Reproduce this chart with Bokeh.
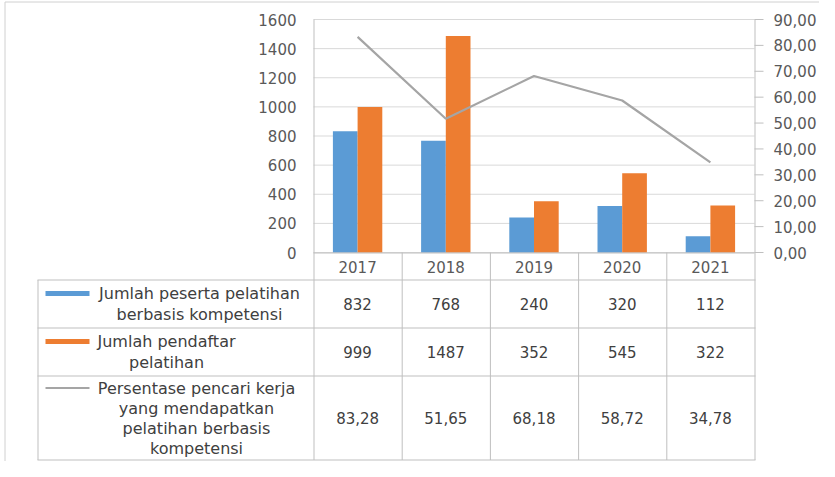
from bokeh.plotting import figure
from bokeh.models import ColumnDataSource, Range1d
from bokeh.core.properties import value
from bokeh.embed import file_html
from bokeh.resources import INLINE

# ---------------- data ----------------
years = ["2017", "2018", "2019", "2020", "2021"]
peserta = [832, 768, 240, 320, 112]
pendaftar = [999, 1487, 352, 545, 322]
persen = [83.28, 51.65, 68.18, 58.72, 34.78]
left_ticks = [0, 200, 400, 600, 800, 1000, 1200, 1400, 1600]
right_ticks = [0, 10, 20, 30, 40, 50, 60, 70, 80, 90]
series_names = [
    ["Jumlah peserta pelatihan", "berbasis kompetensi"],
    ["Jumlah pendaftar", "pelatihan"],
    ["Persentase pencari kerja", "yang mendapatkan", "pelatihan berbasis", "kompetensi"],
]

BLUE = "#5B9BD5"
ORANGE = "#ED7D31"
GRAY = "#A5A5A5"
TXT = "#595959"
TTXT = "#404040"
GRID = "#D9D9D9"
TLINE = "#BFBFBF"
BORDER = "#D0D0D0"
FONT = "DejaVu Sans"

# ---------------- layout (canvas pixels, y downwards) ----------------
W, H = 819, 461
FL, FR, FT, FB = 313, 754, 19, 252      # chart plot area
TL = 37                                   # table left edge
ROWS = [279.5, 327.5, 375.5, 459.5]       # table row boundaries
n = len(years)
cw = (FR - FL) / n
LMAX, RMAX = left_ticks[-1], right_ticks[-1]
ppu_l = (FB - FT) / LMAX
ppu_r = (FB - FT) / RMAX

p = figure(width=W, height=H, x_range=Range1d(0, W), y_range=Range1d(H, 0),
           x_axis_location=None, y_axis_location=None,
           output_backend="svg", toolbar_location=None,
           min_border=0, min_border_left=0, min_border_right=0, min_border_top=0, min_border_bottom=0)
p.grid.visible = False
p.outline_line_color = None
p.background_fill_color = "white"

# value scales for the chart placed over the plot area
p.extra_x_ranges = {"cat": Range1d((0 - FL) / cw, (W - FL) / cw)}
p.extra_y_ranges = {
    "cnt": Range1d(-(H - FB) / ppu_l, LMAX + FT / ppu_l),
    "pct": Range1d(-(H - FB) / ppu_r, RMAX + FT / ppu_r),
}

xc = [i + 0.5 for i in range(n)]
src = ColumnDataSource(dict(xc=xc, xb=[x - 0.14 for x in xc], xo=[x + 0.14 for x in xc],
                            year=years, peserta=peserta, pendaftar=pendaftar, persen=persen))

# outer border
p.segment(x0=[4.5, 4.5], x1=[4.5, W], y0=[1.5, 1.5], y1=[H, 1.5], line_color=BORDER, line_width=1)

# gridlines (count scale)
p.segment(x0=[0] * len(left_ticks), x1=[n] * len(left_ticks), y0=left_ticks, y1=left_ticks,
          x_range_name="cat", y_range_name="cnt", line_color=GRID, line_width=1)

# bars and line
p.vbar(x="xb", top="peserta", bottom=0, width=0.28, source=src, x_range_name="cat",
       y_range_name="cnt", fill_color=BLUE, line_color=None)
p.vbar(x="xo", top="pendaftar", bottom=0, width=0.28, source=src, x_range_name="cat",
       y_range_name="cnt", fill_color=ORANGE, line_color=None)
p.line(x="xc", y="persen", source=src, x_range_name="cat", y_range_name="pct",
       line_color=GRAY, line_width=2.2)

# left axis labels
p.text(x=[FL - 17] * len(left_ticks), y=left_ticks, text=[str(v) for v in left_ticks],
       y_range_name="cnt", text_align="right", text_baseline="middle",
       text_font=value(FONT), text_font_size="15px", text_color=TXT)

# right axis: ticks and labels
p.segment(x0=[FR] * len(right_ticks), x1=[FR + 9] * len(right_ticks), y0=right_ticks, y1=right_ticks,
          y_range_name="pct", line_color=TLINE, line_width=1)
p.text(x=[FR + 19] * len(right_ticks), y=right_ticks,
       text=[f"{v:.2f}".replace(".", ",") for v in right_ticks],
       y_range_name="pct", text_align="left", text_baseline="middle",
       text_font=value(FONT), text_font_size="15px", text_color=TXT)

# category labels
p.text(x="xc", y=(FB + ROWS[0]) / 2 + 1, text="year", source=src, x_range_name="cat",
       text_align="center", text_baseline="middle",
       text_font=value(FONT), text_font_size="15px", text_color=TXT)

# ---------------- data table ----------------
bx = [FL + i * cw + 0.5 for i in range(n + 1)]
# vertical lines (axis lines continue through label row into the table)
p.segment(x0=bx, x1=bx, y0=[FT] * 1 + [FB] * (n - 1) + [FT], y1=[ROWS[-1]] * (n + 1),
          line_color=TLINE, line_width=1)
p.segment(x0=[TL + 0.5], x1=[TL + 0.5], y0=[ROWS[0]], y1=[ROWS[-1]], line_color=TLINE, line_width=1)
# horizontal lines
p.segment(x0=[FL], x1=[FR], y0=[FB + 0.5], y1=[FB + 0.5], line_color=TLINE, line_width=1)
p.segment(x0=[TL] * 4, x1=[FR + 1] * 4, y0=ROWS, y1=ROWS, line_color=TLINE, line_width=1)

values = [[str(v) for v in peserta], [str(v) for v in pendaftar],
          [f"{v:.2f}".replace(".", ",") for v in persen]]
keys = [(BLUE, 5), (ORANGE, 5), (GRAY, 2)]
text_centers = [199, 166, 196]
line_gap = [21, 21, 20]
lx, ly, lt, vx, vy, vt = [], [], [], [], [], []
for r in range(3):
    mid = (ROWS[r] + ROWS[r + 1]) / 2
    lines = series_names[r]
    y0 = mid - (len(lines) - 1) * line_gap[r] / 2
    for j, s in enumerate(lines):
        lx.append(text_centers[r])
        ly.append(y0 + j * line_gap[r])
        lt.append(s)
    col, th = keys[r]
    p.segment(x0=[45], x1=[89], y0=[y0], y1=[y0], line_color=col, line_width=th)
    for i in range(n):
        vx.append(FL + (i + 0.5) * cw)
        vy.append(mid)
        vt.append(values[r][i])

p.text(x=lx, y=ly, text=lt, text_align="center", text_baseline="middle",
       text_font=value(FONT), text_font_size="16px", text_color=TTXT)
p.text(x=vx, y=vy, text=vt, text_align="center", text_baseline="middle",
       text_font=value(FONT), text_font_size="15px", text_color=TTXT)

open("out.html", "w").write(file_html(p, INLINE))
